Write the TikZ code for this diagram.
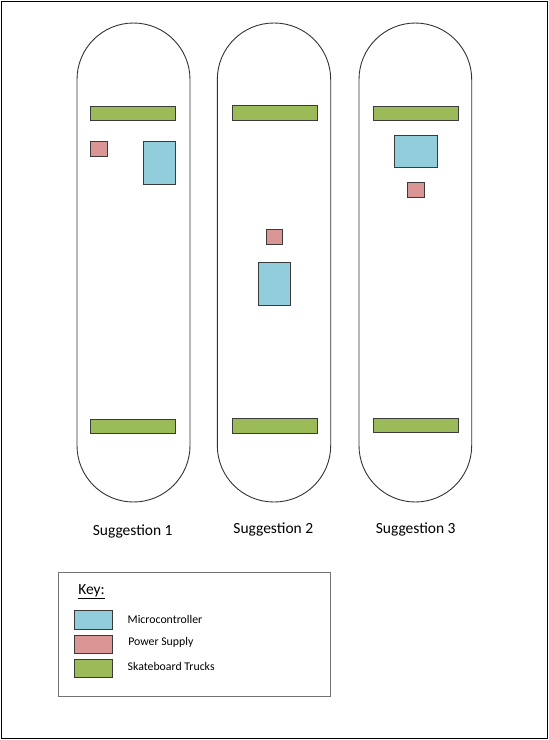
\documentclass[tikz,border=0pt]{standalone}
\usepackage{fontspec}
\setmainfont{Carlito}
\definecolor{mcblue}{HTML}{92CDDC}
\definecolor{psred}{HTML}{DA9694}
\definecolor{trkgreen}{HTML}{9BBB59}
\definecolor{edgegray}{HTML}{3B3B3B}
\begin{document}
\begin{tikzpicture}[x=1pt,y=-1pt,
    every node/.style={inner sep=0pt, outer sep=0pt},
    board/.style={draw=black!80, line width=0.9pt, rounded corners=56.5pt},
    truck/.style={draw=edgegray, fill=trkgreen, line width=0.9pt, minimum width=85pt, minimum height=14.5pt},
    ps/.style={draw=edgegray, fill=psred, line width=0.9pt, minimum width=16.5pt, minimum height=15pt},
    mc/.style={draw=edgegray, fill=mcblue, line width=0.9pt},
    caption/.style={font=\fontsize{15.5}{18}\selectfont},
    keytext/.style={font=\fontsize{11.8}{14}\selectfont, anchor=west}]
            \useasboundingbox (0,0) rectangle (549,740);
            \draw[line width=1pt] (1.5,1.5) rectangle (547.5,738.5);
            % boards
            \draw[board] (77,23) rectangle (190,502);
            \draw[board] (217.3,23) rectangle (330.7,502);
            \draw[board] (359,23) rectangle (471.7,502);
            % suggestion 1
            \node[truck] (trkA1) at (133.2,113.3) {};
            \node[truck] (trkA2) at (133.2,426.3) {};
            \node[ps] (psA) at (98.8,148.5) {};
            \node[mc, minimum width=32.7pt, minimum height=43pt] (mcA) at (159.3,162.5) {};
            \node[caption] (capA) at (132.7,531.5) {Suggestion 1};
            % suggestion 2
            \node[truck] (trkB1) at (274.5,112.8) {};
            \node[truck] (trkB2) at (274.5,426) {};
            \node[ps] (psB) at (274.3,237.2) {};
            \node[mc, minimum width=32.4pt, minimum height=43.7pt] (mcB) at (274.5,283.8) {};
            \node[caption] (capB) at (273.3,529) {Suggestion 2};
            % suggestion 3
            \node[truck] (trkC1) at (416,113.3) {};
            \node[truck] (trkC2) at (416,425.6) {};
            \node[ps] (psC) at (415.7,190.2) {};
            \node[mc, minimum width=43.7pt, minimum height=32pt] (mcC) at (415.8,151.7) {};
            \node[caption] (capC) at (415.7,529) {Suggestion 3};
            % key
            \draw[draw=black!55, line width=1.5pt] (58.3,572.7) rectangle (330.5,696.7);
            \node[caption, anchor=west] (keyhead) at (78.3,592) {\underline{Key:}};
            \node[mc, minimum width=38pt, minimum height=18.5pt] (keyMc) at (93.3,619.8) {};
            \node[ps, minimum width=38pt, minimum height=18.5pt] (keyPs) at (93.3,644.2) {};
            \node[truck, minimum width=38pt, minimum height=18.5pt] (keyTrk) at (93.3,668.5) {};
            \node[keytext] (keyMcT) at (127.7,619.5) {Microcontroller};
            \node[keytext] (keyPsT) at (128.3,642) {Power Supply};
            \node[keytext] (keyTrkT) at (127.7,666.5) {Skateboard Trucks};
        \end{tikzpicture}
\end{document}
